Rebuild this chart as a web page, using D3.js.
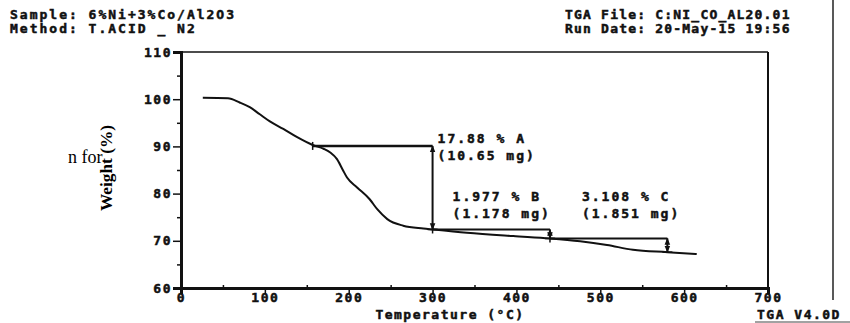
<!DOCTYPE html>
<html>
<head>
<meta charset="utf-8">
<script src="https://cdn.jsdelivr.net/npm/d3@7"></script>
<style>
	body { margin: 0; background: #fff; }
	svg { display: block; }
	.dot { font-family: "DejaVu Sans Mono", monospace; font-weight: bold; font-size: 13px; letter-spacing: 2px; fill: #111; stroke: #111; stroke-width: 0.5px; }
	.tick-label { font-family: "DejaVu Sans Mono", monospace; font-weight: bold; font-size: 13px; letter-spacing: 1.5px; fill: #111; stroke: #111; stroke-width: 0.5px; }
</style>
</head>
<body>
<div id="chart"></div>
<script>
// Declare chart data
var width  = 850;
var height = 323;

const headerLeft  = ['Sample: 6%Ni+3%Co/Al2O3', 'Method: T.ACID _ N2'];
const headerRight = ['TGA File: C:NI_CO_AL20.01', 'Run Date: 20-May-15 19:56'];

const xTicks = [0, 100, 200, 300, 400, 500, 600, 700];
const yTicks = [60, 70, 80, 90, 100, 110];

// curve
const tempC     = [26, 56, 70, 82, 94, 106, 122, 138, 157, 170, 178, 186, 193, 198, 210, 225, 234, 246, 265, 289, 300, 341, 396, 440, 476, 508, 539, 580, 615];
const weightPct = [100.3, 100.2, 99.3, 98.3, 96.8, 95.3, 93.7, 92.0, 90.3, 89.5, 88.7, 87.3, 85.0, 83.4, 81.3, 78.8, 76.7, 74.6, 73.2, 72.6, 72.4, 71.7, 71.0, 70.5, 69.9, 69.1, 68.1, 67.6, 67.2];

// weight-loss steps
const stepLabels  = ['17.88 % A', '1.977 % B', '3.108 % C'];
const stepMass    = ['(10.65 mg)', '(1.178 mg)', '(1.851 mg)'];
const stepStartT  = [157, 300, 440];
const stepEndT    = [300, 440, 580];
const stepStartW  = [90.1, 72.4, 70.5];
const stepEndW    = [72.4, 70.5, 67.6];

const svg = d3.select('#chart').append('svg')
	.attr('width', width)
	.attr('height', height);

var x = d3.scaleLinear().domain([0, 700]).range([181, 768]);
var y = d3.scaleLinear().domain([60, 110]).range([288, 52]);

// arrow heads
var defs = svg.append('defs');
defs.append('marker')
	.attr('id', 'head')
	.attr('viewBox', '0 0 10 10')
	.attr('refX', 9).attr('refY', 5)
	.attr('markerWidth', 7).attr('markerHeight', 7)
	.attr('orient', 'auto-start-reverse')
	.attr('markerUnits', 'userSpaceOnUse')
	.append('path')
	.attr('d', 'M0,1 L10,5 L0,9 Z')
	.attr('fill', '#111');

// header text
svg.selectAll('text.hl')
	.data(headerLeft)
	.enter()
	.append('text')
	.attr('class', 'dot hl')
	.attr('x', 10)
	.attr('y', (d, i) => 19 + i * 14)
	.text(d => d);

svg.selectAll('text.hr')
	.data(headerRight)
	.enter()
	.append('text')
	.attr('class', 'dot hr')
	.attr('x', 565)
	.attr('y', (d, i) => 19 + i * 14)
	.style('letter-spacing', '1.2px')
	.text(d => d);

// stray text from the page
svg.append('text')
	.attr('x', 68).attr('y', 163)
	.attr('font-family', 'Liberation Serif')
	.attr('font-size', 18)
	.text('n for');

svg.append('line')
	.attr('x1', 833).attr('x2', 833)
	.attr('y1', 0).attr('y2', 300)
	.attr('stroke', '#222').attr('stroke-width', 1.5);

// frame
svg.append('line')
	.attr('x1', x(0)).attr('x2', x(700))
	.attr('y1', y(110)).attr('y2', y(110))
	.attr('stroke', '#111').attr('stroke-width', 1.5);
svg.append('line')
	.attr('x1', x(700)).attr('x2', x(700))
	.attr('y1', y(110)).attr('y2', y(60))
	.attr('stroke', '#111').attr('stroke-width', 2);

// y axis
var yAxis = d3.axisLeft(y)
	.tickValues(yTicks)
	.tickSize(8)
	.tickFormat(d3.format('d'));
var gy = svg.append('g')
	.attr('transform', 'translate(' + x(0) + ',0)')
	.call(yAxis);
gy.select('.domain').attr('stroke-width', 3).attr('stroke', '#111');
gy.selectAll('.tick line').attr('stroke-width', 1.5).attr('stroke', '#111');
gy.selectAll('.tick text').attr('class', 'tick-label').attr('x', -9).attr('font-size', null).attr('font-family', null);

var yMinor = d3.axisLeft(y)
	.tickValues(d3.range(65, 110, 10))
	.tickSize(4)
	.tickFormat('');
var gym = svg.append('g')
	.attr('transform', 'translate(' + x(0) + ',0)')
	.call(yMinor);
gym.select('.domain').remove();
gym.selectAll('.tick line').attr('stroke-width', 1.5).attr('stroke', '#111');

// x axis
var xAxis = d3.axisBottom(x)
	.tickValues(xTicks)
	.tickSize(6)
	.tickFormat(d3.format('d'));
var gx = svg.append('g')
	.attr('transform', 'translate(0,' + y(60) + ')')
	.call(xAxis);
gx.select('.domain').attr('stroke-width', 3).attr('stroke', '#111');
gx.selectAll('.tick line').attr('stroke-width', 1.5).attr('stroke', '#111');
gx.selectAll('.tick text').attr('class', 'tick-label').attr('y', 5).attr('font-size', null).attr('font-family', null);

var xMinor = d3.axisTop(x)
	.tickValues(d3.range(50, 700, 100))
	.tickSize(3)
	.tickFormat('');
var gxm = svg.append('g')
	.attr('transform', 'translate(0,' + y(60) + ')')
	.call(xMinor);
gxm.select('.domain').remove();
gxm.selectAll('.tick line').attr('stroke-width', 1.5).attr('stroke', '#111');

// axis titles
svg.append('text')
	.attr('transform', 'translate(112,168) rotate(-90)')
	.attr('text-anchor', 'middle')
	.attr('font-family', 'Liberation Serif')
	.attr('font-weight', 'bold')
	.attr('font-size', 17)
	.attr('textLength', 86)
	.attr('lengthAdjust', 'spacingAndGlyphs')
	.text('Weight (%)');

svg.append('text')
	.attr('class', 'dot')
	.attr('x', 450).attr('y', 319)
	.attr('text-anchor', 'middle')
	.style('letter-spacing', '1.5px')
	.text('Temperature (°C)');

svg.append('text')
	.attr('class', 'dot')
	.attr('x', 757).attr('y', 319)
	.style('letter-spacing', '1.5px')
	.text('TGA V4.0D');
svg.append('line')
	.attr('x1', 755).attr('x2', 850)
	.attr('y1', 322).attr('y2', 322)
	.attr('stroke', '#444').attr('stroke-width', 1);

// curve
var line = d3.line()
	.x((d, i) => x(tempC[i]))
	.y(d => y(d))
	.curve(d3.curveMonotoneX);
svg.append('path')
	.datum(weightPct)
	.attr('d', line)
	.attr('fill', 'none')
	.attr('stroke', '#111')
	.attr('stroke-width', 2);

// steps
var steps = svg.selectAll('g.step')
	.data(stepLabels)
	.enter()
	.append('g')
	.attr('class', 'step');

steps.append('line')
	.attr('x1', (d, i) => x(stepStartT[i]))
	.attr('x2', (d, i) => x(stepEndT[i]))
	.attr('y1', (d, i) => y(stepStartW[i]))
	.attr('y2', (d, i) => y(stepStartW[i]))
	.attr('stroke', '#111')
	.attr('stroke-width', (d, i) => i == 0 ? 2.5 : 2);

steps.append('line')
	.attr('x1', (d, i) => x(stepStartT[i]))
	.attr('x2', (d, i) => x(stepStartT[i]))
	.attr('y1', (d, i) => y(stepStartW[i]) - 4)
	.attr('y2', (d, i) => y(stepStartW[i]) + 4)
	.attr('stroke', '#111')
	.attr('stroke-width', 1.5);

steps.append('line')
	.attr('x1', (d, i) => x(stepEndT[i]))
	.attr('x2', (d, i) => x(stepEndT[i]))
	.attr('y1', (d, i) => y(stepStartW[i]))
	.attr('y2', (d, i) => y(stepEndW[i]))
	.attr('stroke', '#111')
	.attr('stroke-width', 2)
	.attr('marker-start', 'url(#head)')
	.attr('marker-end', 'url(#head)');

steps.append('line')
	.attr('x1', (d, i) => x(stepEndT[i]) - 5)
	.attr('x2', (d, i) => x(stepEndT[i]) + 5)
	.attr('y1', (d, i) => y(stepEndW[i]))
	.attr('y2', (d, i) => y(stepEndW[i]))
	.attr('stroke', '#111')
	.attr('stroke-width', 1.5);

// step labels
steps.append('text')
	.attr('class', 'dot')
	.attr('x', (d, i) => i == 0 ? x(stepEndT[i]) + 5 : x(stepStartT[i]) + (i == 1 ? 20 : 32))
	.attr('y', (d, i) => i == 0 ? y(stepStartW[i]) - 3 : 201)
	.text(d => d);

steps.append('text')
	.attr('class', 'dot')
	.attr('x', (d, i) => i == 0 ? x(stepEndT[i]) + 5 : x(stepStartT[i]) + (i == 1 ? 20 : 32))
	.attr('y', (d, i) => i == 0 ? y(stepStartW[i]) + 14 : 218)
	.text((d, i) => stepMass[i]);
</script>
</body>
</html>
